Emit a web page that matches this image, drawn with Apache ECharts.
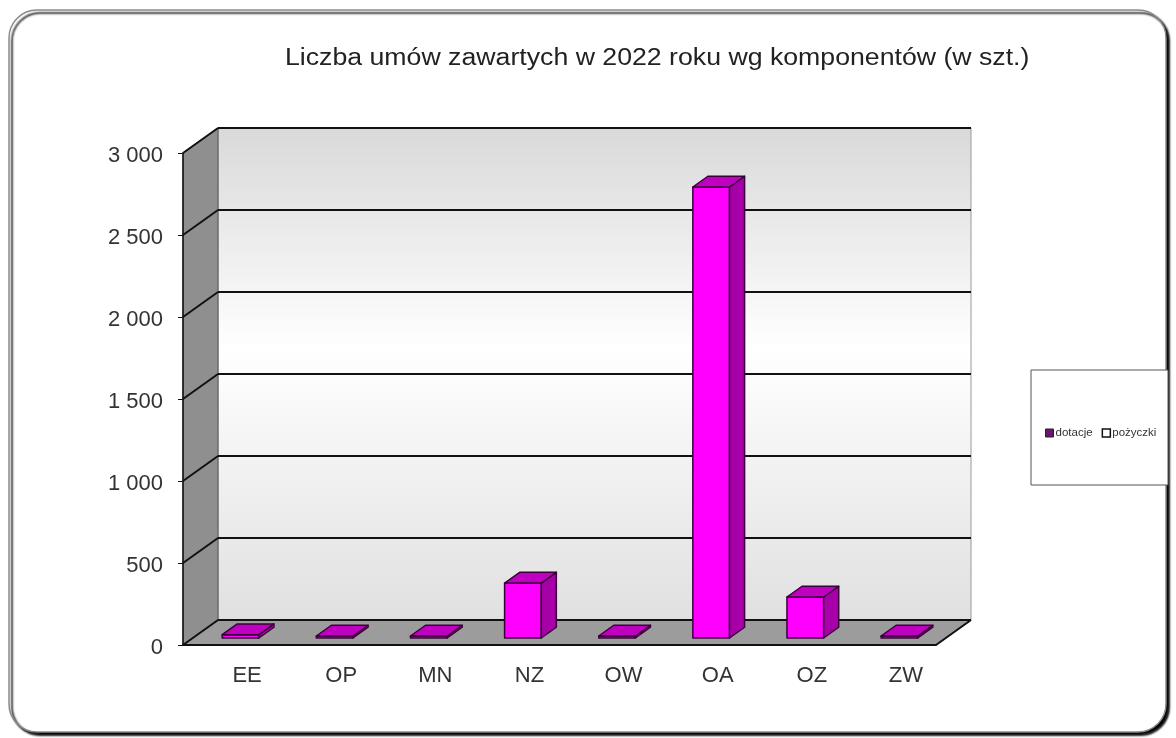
<!DOCTYPE html>
<html>
<head>
<meta charset="utf-8">
<script src="https://cdn.jsdelivr.net/npm/echarts/dist/echarts.min.js"></script>
<style>
  html, body { margin: 0; padding: 0; background: #fff; }
  #chart { width: 1176px; height: 738px; }
</style>
</head>
<body>
<div id="chart"></div>
<script>
// dane
const categories = ['EE', 'OP', 'MN', 'NZ', 'OW', 'OA', 'OZ', 'ZW'];
const dotacje = [20, 8, 10, 335, 12, 2750, 250, 6];
const pozyczki = [0, 0, 0, 0, 0, 0, 0, 0];
const yTicks = [0, 500, 1000, 1500, 2000, 2500, 3000];
const title = 'Liczba umów zawartych w 2022 roku wg komponentów (w szt.)';

// przesuniecie glebi "3D" w pikselach
const DX = 35, DY = -25;

const myChart = echarts.init(document.getElementById('chart'));

function fmt(v) {
  return String(v).replace(/\B(?=(\d{3})+(?!\d))/g, ' ');
}

// sciany, podloga i linie siatki
function renderFrame(params, api) {
  const cs = params.coordSys;
  const x0 = cs.x, x1 = cs.x + cs.width, y0 = cs.y, y1 = cs.y + cs.height;
  const children = [
    {
      type: 'rect',
      shape: { x: x0 + DX, y: y0 + DY, width: x1 - x0, height: y1 - y0 },
      style: {
        fill: new echarts.graphic.LinearGradient(0, 0, 0, 1, [
          { offset: 0, color: '#d9d9d9' },
          { offset: 0.45, color: '#ffffff' },
          { offset: 1, color: '#e0e0e0' }
        ]),
        stroke: '#9a9a9a', lineWidth: 1
      }
    },
    {
      type: 'polygon',
      shape: { points: [[x0, y0], [x0 + DX, y0 + DY], [x0 + DX, y1 + DY], [x0, y1]] },
      style: { fill: '#8f8f8f', stroke: '#555', lineWidth: 1 }
    },
    {
      type: 'polygon',
      shape: { points: [[x0, y1], [x1, y1], [x1 + DX, y1 + DY], [x0 + DX, y1 + DY]] },
      style: { fill: '#9c9c9c', stroke: '#333', lineWidth: 1 }
    }
  ];
  yTicks.forEach(function (t) {
    const y = api.coord([0, t])[1];
    children.push({
      type: 'line',
      shape: { x1: x0 + DX, y1: y + DY, x2: x1 + DX, y2: y + DY },
      style: { stroke: '#111', lineWidth: 2 }
    });
    children.push({
      type: 'line',
      shape: { x1: x0, y1: y, x2: x0 + DX, y2: y + DY },
      style: { stroke: '#111', lineWidth: 2 }
    });
  });
  children.push({
    type: 'line',
    shape: { x1: x1, y1: y1, x2: x1 + DX, y2: y1 + DY },
    style: { stroke: '#111', lineWidth: 2 }
  });
  return { type: 'group', children: children };
}

function barRenderer(front, side, top, baseArr) {
  return function (params, api) {
    const i = api.value(0), v = api.value(1);
    if (!v) return null;
    const b = baseArr ? baseArr[i] : 0;
    const p0 = api.coord([i, b]);
    const p1 = api.coord([i, b + v]);
    const w = api.size([1, 0])[0] * 0.39;
    const fx = p0[0] + DX * 0.3 - w / 2;
    const by = p0[1] + DY * 0.28;
    const ty = Math.min(p1[1] + DY * 0.28, by - 2);
    const ddx = DX * 0.43, ddy = DY * 0.43;
    const st = { stroke: '#3a003a', lineWidth: 1.5, lineJoin: 'round' };
    return {
      type: 'group',
      children: [
        { type: 'polygon', shape: { points: [[fx, by], [fx + w, by], [fx + w, ty], [fx, ty]] },
          style: Object.assign({ fill: front }, st) },
        { type: 'polygon', shape: { points: [[fx + w, by], [fx + w + ddx, by + ddy], [fx + w + ddx, ty + ddy], [fx + w, ty]] },
          style: Object.assign({ fill: side }, st) },
        { type: 'polygon', shape: { points: [[fx, ty], [fx + w, ty], [fx + w + ddx, ty + ddy], [fx + ddx, ty + ddy]] },
          style: Object.assign({ fill: top }, st) }
      ]
    };
  };
}

const option = {
  backgroundColor: '#fff',
  animation: false,
  graphic: [
    {
      type: 'rect', z: -10,
      shape: { x: 9, y: 10, width: 1157, height: 722, r: 28 },
      style: { fill: '#fff', stroke: '#8a8a8a', lineWidth: 1.5, shadowColor: '#000', shadowOffsetX: 3, shadowOffsetY: 3, shadowBlur: 2 }
    },
    {
      type: 'rect', z: -5,
      shape: { x: 1031, y: 370, width: 137, height: 115 },
      style: { fill: '#fff', stroke: '#555', lineWidth: 1 }
    },
    {
      type: 'text', z: 10,
      x: 285, y: 59, scaleX: 1.16,
      style: {
        text: title,
        font: '23px "Liberation Sans"',
        fill: '#222',
        textVerticalAlign: 'middle'
      }
    }
  ],
  legend: {
    left: 1040,
    top: 422,
    itemWidth: 8,
    itemHeight: 8,
    itemGap: 9,
    icon: 'rect',
    textStyle: { fontFamily: 'Liberation Sans', fontSize: 11.5, color: '#333', padding: [0, 0, 0, -3] },
    data: [
      { name: 'dotacje', itemStyle: { color: '#6a1470', borderColor: '#222', borderWidth: 1 } },
      { name: 'pożyczki', itemStyle: { color: '#fff', borderColor: '#111', borderWidth: 1.5 } }
    ]
  },
  grid: { left: 183, right: 240, top: 153, bottom: 93 },
  xAxis: {
    type: 'category',
    data: categories,
    axisLine: { lineStyle: { color: '#111', width: 2 } },
    axisTick: { length: 7, lineStyle: { color: '#666', width: 1.5 } },
    axisLabel: { fontFamily: 'Liberation Sans', fontSize: 22, color: '#333', margin: 20, padding: [0, 0, 0, 34] },
    z: 5
  },
  yAxis: {
    type: 'value',
    min: 0,
    max: 3000,
    interval: 500,
    axisLine: { show: true, lineStyle: { color: '#111', width: 1.5 } },
    axisTick: { show: true, length: 5, lineStyle: { color: '#111' } },
    splitLine: { show: false },
    axisLabel: { fontFamily: 'Liberation Sans', fontSize: 22, color: '#333', margin: 20, verticalAlign: 'top', padding: [-8, 0, 0, 0], formatter: fmt },
    z: 5
  },
  series: [
    {
      type: 'custom',
      name: 'frame',
      z: 1,
      silent: true,
      renderItem: renderFrame,
      data: [[0, 0]]
    },
    {
      type: 'custom',
      name: 'dotacje',
      z: 3,
      itemStyle: { color: '#6a1470' },
      renderItem: barRenderer('#ff00ff', '#a800a8', '#c000c0', null),
      data: categories.map(function (c, i) { return [i, dotacje[i]]; })
    },
    {
      type: 'custom',
      name: 'pożyczki',
      z: 3,
      itemStyle: { color: '#fff' },
      renderItem: barRenderer('#ffffff', '#dddddd', '#eeeeee', dotacje),
      data: categories.map(function (c, i) { return [i, pozyczki[i]]; })
    }
  ]
};

myChart.setOption(option);
</script>
</body>
</html>
